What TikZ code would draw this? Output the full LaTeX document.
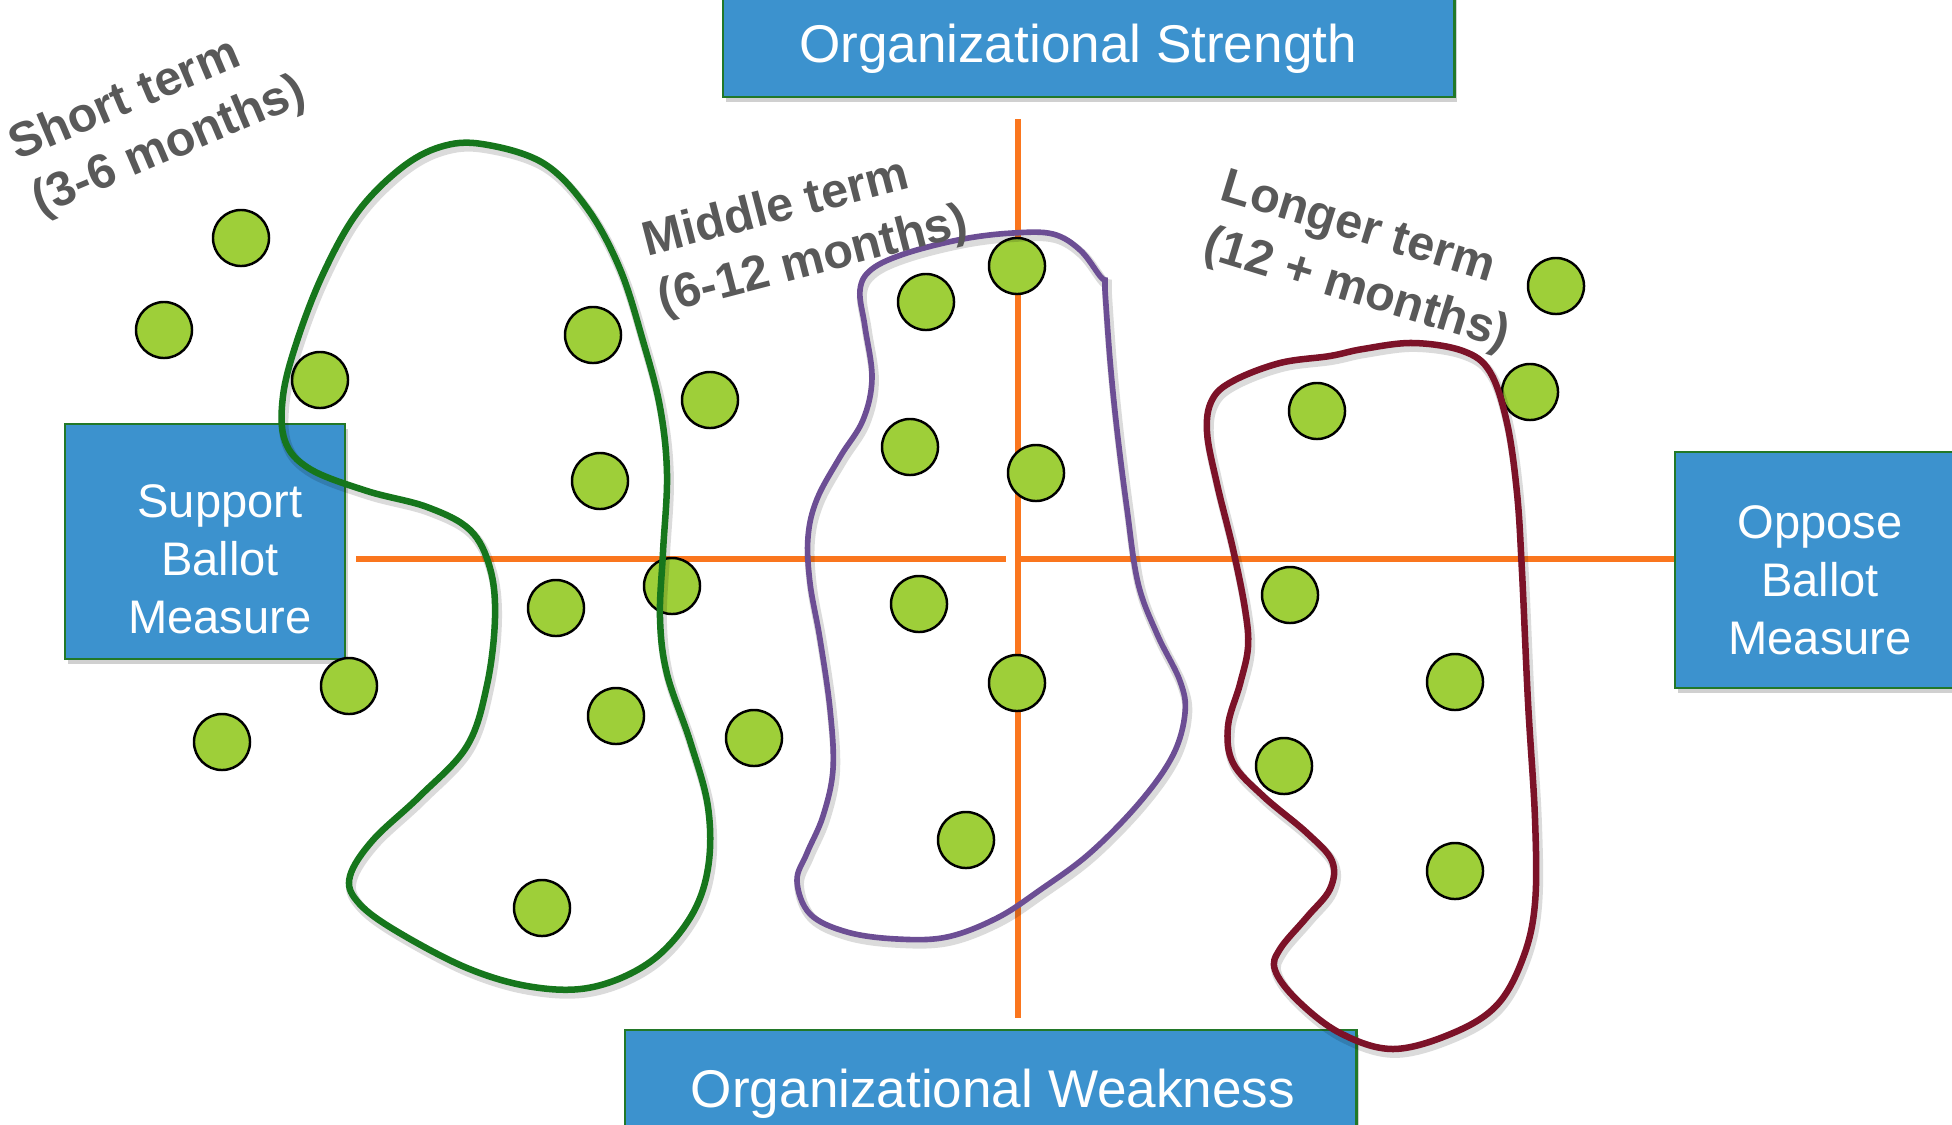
\documentclass[tikz,border=0pt]{standalone}
\usepackage{fontspec}
\setmainfont{Liberation Sans}
\usetikzlibrary{shadows}

\definecolor{boxblue}{RGB}{60,146,206}
\definecolor{boxedge}{RGB}{34,120,40}
\definecolor{axisorange}{RGB}{250,118,30}
\definecolor{dotgreen}{RGB}{158,207,57}
\definecolor{shortgreen}{RGB}{22,118,28}
\definecolor{midpurple}{RGB}{108,78,148}
\definecolor{longmaroon}{RGB}{124,18,40}
\definecolor{labelgray}{RGB}{89,89,89}

% closed outlines grouping the stakeholders by time horizon
\newcommand\shortblob[1]{\draw[#1] plot[smooth cycle, tension=0.6] coordinates {
  (482,144) (543,163) (587,208) (620,269) (643,341) (660,407) (667,474) (663,552)
  (660,618) (667,674) (690,741) (708,807) (708,868) (690,918) (650,962) (593,987)
  (533,987) (467,968) (393,929) (357,901) (350,876) (373,840) (420,796) (467,746)
  (487,685) (495,618) (490,568) (470,530) (427,507) (367,491) (310,469) (285,441)
  (283,396) (297,341) (323,274) (357,213) (400,169) (440,147)};}
\newcommand\middleblob[1]{\draw[#1] plot[smooth, tension=0.6] coordinates {
  (1105,290) (1110,360) (1117,430) (1127,509) (1138,583) (1157,634) (1180,681)
  (1185,713) (1173,755) (1140,802) (1090,853) (1040,890) (997,918) (947,937)
  (897,939) (847,932) (810,914) (797,881) (807,853) (823,816) (833,769) (830,709)
  (820,639) (810,583) (808,537) (817,499) (840,457) (863,420) (872,378) (865,327)
  (860,290) (872,269) (907,253) (963,239) (1013,233) (1053,234) (1080,250)
  (1100,276) (1105,280)} -- cycle;}
\newcommand\longerblob[1]{\draw[#1] plot[smooth cycle, tension=0.6] coordinates {
  (1413,343) (1463,351) (1490,372) (1507,423) (1517,493) (1522,572) (1528,702)
  (1535,819) (1535,903) (1523,958) (1497,1005) (1453,1033) (1393,1049) (1340,1033)
  (1297,1000) (1275,970) (1280,949) (1307,917) (1330,889) (1332,861) (1307,833)
  (1263,796) (1233,763) (1228,726) (1240,684) (1248,647) (1245,609) (1233,549)
  (1217,484) (1207,432) (1212,400) (1233,381) (1280,363) (1330,356) (1363,349)};}

\begin{document}
\begin{tikzpicture}[x=0.01cm, y=-0.01cm,
  box/.style={draw=boxedge, line width=0.6pt, fill=boxblue, inner sep=0pt,
    anchor=north west,
    drop shadow={shadow xshift=0.8pt, shadow yshift=-1.4pt, opacity=0.3, fill=black!60}},
  axistext/.style={text=white, font=\fontsize{15.1}{18}\selectfont, inner sep=0pt},
  sidetext/.style={text=white, font=\fontsize{13.4}{16.5}\selectfont, align=center, inner sep=0pt},
  termlabel/.style={text=labelgray, font=\bfseries\fontsize{13.8}{17}\selectfont, align=left, inner sep=0pt},
  axis/.style={draw=axisorange, line width=1.55pt},
  dot/.style={circle, draw=black, line width=0.7pt, fill=dotgreen, minimum size=0.56cm, inner sep=0pt},
  blobshadow/.style={draw=black, opacity=0.14, line width=2.8pt, shift={(2,4)}}]

\useasboundingbox (0,0) rectangle (1952,1124);
\fill[white] (0,0) rectangle (1952,1124);
\clip (0,0) rectangle (1952,1124);

% axis end points
\coordinate (vtop) at (1018,119);
\coordinate (vbot) at (1018,1018);
\coordinate (hl1) at (356,559);
\coordinate (hl2) at (1006,559);
\coordinate (hr1) at (1019,559);
\coordinate (hr2) at (1674,559);

\draw[axis] (vtop) -- (vbot);
\draw[axis] (hl1) -- (hl2);
\draw[axis] (hr1) -- (hr2);

% axis boxes
\node[box, minimum width=7.31cm, minimum height=1.10cm] (strength) at (722,-14) {};
\node[box, minimum width=7.31cm, minimum height=1.30cm] (weakness) at (624,1029) {};
\node[box, minimum width=2.80cm, minimum height=2.35cm] (support) at (64,423) {};
\node[box, minimum width=3.00cm, minimum height=2.36cm] (oppose) at (1674,451) {};

\node[axistext, anchor=base] (strengthtxt) at (1078,62) {Organizational Strength};
\node[axistext, anchor=base] (weaknesstxt) at (993,1107) {Organizational Weakness};
\node[sidetext] (supporttxt) at (220,559) {Support\\Ballot\\Measure};
\node[sidetext] (opposetxt) at (1820,580) {Oppose\\Ballot\\Measure};

% stakeholders
\foreach \i/\x/\y in {1/241/238, 2/164/330, 3/320/380, 4/593/335, 5/710/400,
  6/600/481, 7/556/608, 8/672/586, 9/349/686, 10/222/742, 11/616/716, 12/754/738,
  13/542/908, 14/926/302, 15/1017/266, 16/910/447, 17/1036/473, 18/919/604,
  19/1017/683, 20/966/840, 21/1556/286, 22/1530/392, 23/1317/411, 24/1290/595,
  25/1455/682, 26/1284/766, 27/1455/871}
  \node[dot] (d\i) at (\x,\y) {};

% time-horizon outlines
\shortblob{blobshadow}
\middleblob{blobshadow}
\longerblob{blobshadow}
\shortblob{shortgreen, line width=1.85pt}
\middleblob{midpurple, line width=1.6pt}
\longerblob{longmaroon, line width=1.85pt}

% time-horizon labels
\node[termlabel, rotate=23] (shortlbl) at (158,120) {Short term\\(3-6 months)};
\node[termlabel, rotate=14.5] (middlelbl) at (806,233) {Middle term\\(6-12 months)};
\node[termlabel, rotate=-17] (longerlbl) at (1365,263) {Longer term\\(12 + months)};
\end{tikzpicture}
\end{document}
